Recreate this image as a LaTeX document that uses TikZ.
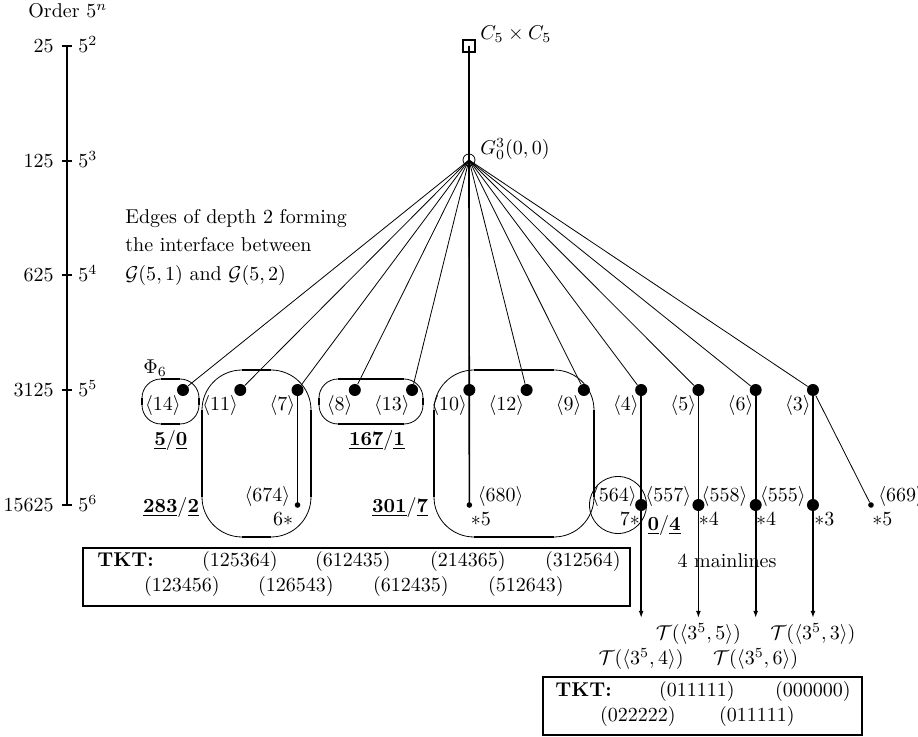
\documentclass[tikz,border=0pt]{standalone}
\usepackage{amsmath}
\usetikzlibrary{positioning,calc,arrows.meta}

% rounded box: thin corners, thick straight sides
\newcommand{\pictoval}[5]{%
  \draw[thin, rounded corners=#5*0.5pt] (#1,#2) rectangle (#3,#4);
  \draw[thick] ({#1+#5},#2) -- ({#3-#5},#2) (#3,{#2+#5}) -- (#3,{#4-#5})
    ({#3-#5},#4) -- ({#1+#5},#4) (#1,{#4-#5}) -- (#1,{#2+#5});}

\begin{document}
\begin{tikzpicture}[x=0.5pt, y=-0.5pt,
  bigdot/.style={circle, fill, inner sep=0pt, minimum size=6pt},
  smalldot/.style={circle, fill, inner sep=0pt, minimum size=2.8pt},
  lab/.style={inner sep=0pt},
  mainline/.style={thick, -{Latex[length=3.5pt,width=2.4pt]}}]
\useasboundingbox (0,0) rectangle (918,737);

% order scale
\node[lab, anchor=base west] (order) at (28,18) {Order $5^n$};
\draw[thick] (67,46) -- (67,505);
\foreach \y/\n/\e in {46/25/2,161/125/3,275/625/4,390/3125/5,505/15625/6}{
  \draw[thick] (62,\y) -- (72,\y);
  \node[lab, anchor=base east] (ord\e) at (54,\y+6.5) {$\n$};
  \node[lab, anchor=base west] (pow\e) at (78,\y+6.5) {$5^{\e}$};
}

% root and its child
\node[draw, thick, inner sep=0pt, minimum size=6.2pt] (sq) at (469,46) {};
\node[draw, thin, circle, inner sep=0pt, minimum size=6pt] (G) at (469,160) {};
\node[lab, anchor=base west] (sqlab) at (480,40) {$C_5\times C_5$};
\node[lab, anchor=base west] (Glab) at (480,155) {$G^3_0(0,0)$};

\node[lab, anchor=north west, align=left] (edgetxt) at (125,209)
  {Edges of depth 2 forming\\[2.2pt] the interface between\\[2.2pt]
   $\mathcal{G}(5,1)$ and $\mathcal{G}(5,2)$};

% vertices of order 5^5
\foreach \n [count=\i from 0] in {14,11,7,8,13,10,12,9,4,5,6,3}{
  \node[bigdot] (d\n) at ({183+57.27*\i},390) {};
  \draw[thin] (G.center) -- (d\n);
  \node[lab, anchor=north east] (l\n) at ($(d\n)+(-2,5)$) {$\langle\n\rangle$};
}

% vertices of order 5^6
\node[smalldot] (s7) at ($(d7)+(0,115)$) {};
\node[smalldot] (s10) at ($(d10)+(0,115)$) {};
\node[smalldot] (s3) at ($(d3)+(58,115)$) {};
\draw[thick] (sq.center) -- (G.center) -- (s10.center);
\draw[thick] (d7.center) -- (s7.center);
\draw[thin] (d3) -- (s3);
\foreach \n in {4,5,6,3}{
  \node[bigdot] (e\n) at ($(d\n)+(0,115)$) {};
  \coordinate (t\n) at ($(d\n)+(0,228)$);
  \draw[mainline] (d\n.center) -- (e\n.center) -- (t\n);
}

\node[lab, anchor=base east] (l674) at ($(s7)+(-7,-3)$) {$\langle 674\rangle$};
\node[lab, anchor=base west] (l680) at ($(s10)+(8,-3)$) {$\langle 680\rangle$};
\node[lab, anchor=base east] (l564) at ($(e4)+(-4,-3)$) {$\langle 564\rangle$};
\node[lab, anchor=base east] (l557) at ($(e5)+(-7,-3)$) {$\langle 557\rangle$};
\node[lab, anchor=base east] (l558) at ($(e6)+(-8,-3)$) {$\langle 558\rangle$};
\node[lab, anchor=base east] (l555) at ($(e3)+(-7,-3)$) {$\langle 555\rangle$};
\node[lab, anchor=base west] (l669) at ($(s3)+(7,-3)$) {$\langle 669\rangle$};

\node[lab, anchor=north east] (c7) at ($(s7)+(-4,7)$) {$6*$};
\node[lab, anchor=north west] (c10) at ($(s10)+(1,7)$) {$*5$};
\node[lab, anchor=north east] (c4) at ($(e4)+(-1,7)$) {$7*$};
\node[lab, anchor=north west] (c5) at ($(e5)+(0,7)$) {$*4$};
\node[lab, anchor=north west] (c6) at ($(e6)+(0,7)$) {$*4$};
\node[lab, anchor=north west] (c3) at ($(e3)+(1,7)$) {$*3$};
\node[lab, anchor=north west] (c3b) at ($(s3)+(1,7)$) {$*5$};

% families
\pictoval{142}{379}{199}{424}{19}
\pictoval{202}{370}{311}{537}{40}
\pictoval{319}{379}{423}{424}{19}
\pictoval{434}{370}{594}{537}{40}
\draw[thin] (618,505) circle[radius=28.5];

\node[lab, anchor=base west] (phi) at (143,374) {$\Phi_6$};
\node[lab, anchor=base] (f14) at (171,446) {$\underline{\mathbf{5}}/\underline{\mathbf{0}}$};
\node[lab, anchor=base] (f8) at (377,446) {$\underline{\mathbf{167}}/\underline{\mathbf{1}}$};
\node[lab, anchor=base] (f11) at (171,513) {$\underline{\mathbf{283}}/\underline{\mathbf{2}}$};
\node[lab, anchor=base] (f10) at (400,513) {$\underline{\mathbf{301}}/\underline{\mathbf{7}}$};
\node[lab, anchor=base] (f4) at (664,531) {$\underline{\mathbf{0}}/\underline{\mathbf{4}}$};
\node[lab, anchor=base] (ml) at (727,568) {4 mainlines};

% trees
\node[lab, anchor=base] (T5) at ($(t5)+(0,22)$) {$\mathcal{T}(\langle 3^5,5\rangle)$};
\node[lab, anchor=base] (T3) at ($(t3)+(0,22)$) {$\mathcal{T}(\langle 3^5,3\rangle)$};
\node[lab, anchor=base] (T4) at ($(t4)+(0,47)$) {$\mathcal{T}(\langle 3^5,4\rangle)$};
\node[lab, anchor=base] (T6) at ($(t6)+(0,47)$) {$\mathcal{T}(\langle 3^5,6\rangle)$};

% TKT boxes
\draw[thick] (83,548) rectangle (630,606);
\node[lab, anchor=base west] (tktA) at (97,567) {\textbf{TKT:}};
\foreach \x/\k in {240/125364,353/612435,468/214365,583/312564}
  \node[lab, anchor=base] (ka\k) at (\x,567) {$(\k)$};
\foreach \x/\k [count=\i] in {182/123456,296/126543,411/612435,526/512643}
  \node[lab, anchor=base] (kb\i) at (\x,592) {$(\k)$};

\draw[thick] (543,677) rectangle (862,735);
\node[lab, anchor=base west] (tktB) at (555,697) {\textbf{TKT:}};
\node[lab, anchor=base] (kc1) at (697,697) {$(011111)$};
\node[lab, anchor=base] (kc2) at (813,697) {$(000000)$};
\node[lab, anchor=base] (kc3) at (638,722) {$(022222)$};
\node[lab, anchor=base] (kc4) at (757,722) {$(011111)$};
\end{tikzpicture}
\end{document}
